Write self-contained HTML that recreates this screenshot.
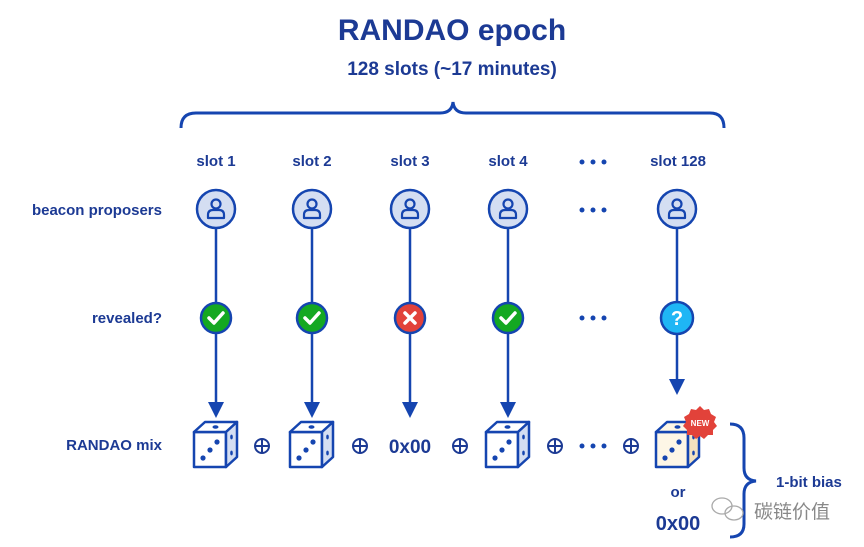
<!DOCTYPE html>
<html><head><meta charset="utf-8"><style>
html,body{margin:0;padding:0;background:#fff;}
svg{display:block;font-family:"Liberation Sans","Noto Sans CJK SC",sans-serif;}
.t{fill:#1c3a94;font-weight:bold;}
</style></head><body>
<svg width="864" height="547" viewBox="0 0 864 547" xmlns="http://www.w3.org/2000/svg">
<defs>
<g id="die">
  <path d="M0 10 L32 10 L32 45 L0 45 Z" fill="#fff" stroke="#1545b0" stroke-width="2.5" stroke-linejoin="round"/>
  <path d="M0 10 L11 0 L43 0 L32 10 Z" fill="#fff" stroke="#1545b0" stroke-width="2.5" stroke-linejoin="round"/>
  <path d="M32 10 L43 0 L43 35 L32 45 Z" fill="#d4def2" stroke="#1545b0" stroke-width="2.5" stroke-linejoin="round"/>
  <ellipse cx="21.5" cy="5" rx="3" ry="1.8" fill="#1545b0"/>
  <circle cx="9" cy="36" r="2.6" fill="#1545b0"/>
  <circle cx="16" cy="28" r="2.6" fill="#1545b0"/>
  <circle cx="23" cy="20" r="2.6" fill="#1545b0"/>
  <ellipse cx="37.5" cy="15" rx="1.3" ry="2.4" fill="#1545b0"/>
  <ellipse cx="37.5" cy="31" rx="1.3" ry="2.4" fill="#1545b0"/>
</g>
<g id="person">
  <circle r="19" fill="#d4def2" stroke="#1545b0" stroke-width="2.5"/>
  <circle cy="-5" r="4.5" fill="none" stroke="#1545b0" stroke-width="2.2"/>
  <path d="M-8 9 L-8 6 Q-8 1 -3 1 L3 1 Q8 1 8 6 L8 9 Z" fill="none" stroke="#1545b0" stroke-width="2.2" stroke-linejoin="round"/>
</g>
<g id="plus">
  <circle r="7" fill="none" stroke="#1c3a94" stroke-width="2"/>
  <path d="M-7 0 H7 M0 -7 V7" stroke="#1c3a94" stroke-width="2"/>
</g>
<g id="arrow"><path d="M-8 -16 L8 -16 L0 0 Z" fill="#1545b0"/></g>
</defs>

<text x="452" y="40" text-anchor="middle" class="t" font-size="30">RANDAO epoch</text>
<text x="452" y="75" text-anchor="middle" class="t" font-size="19">128 slots (~17 minutes)</text>
<path d="M181 128 Q181 113 196 113 L440 113 Q452 113 453 102 Q454 113 466 113 L710 113 Q724 113 724 128" fill="none" stroke="#1545b0" stroke-width="3"/>

<g class="t" font-size="15" text-anchor="middle">
<text x="216" y="166">slot 1</text>
<text x="312" y="166">slot 2</text>
<text x="410" y="166">slot 3</text>
<text x="508" y="166">slot 4</text>
<text x="678" y="166">slot 128</text>
</g>
<g class="t" font-size="15" text-anchor="end">
<text x="162" y="215">beacon proposers</text>
<text x="162" y="323">revealed?</text>
<text x="162" y="450">RANDAO mix</text>
</g>
<g fill="#1545b0">
<circle cx="582" cy="162" r="2.5"/><circle cx="593" cy="162" r="2.5"/><circle cx="604" cy="162" r="2.5"/>
<circle cx="582" cy="210" r="2.5"/><circle cx="593" cy="210" r="2.5"/><circle cx="604" cy="210" r="2.5"/>
<circle cx="582" cy="318" r="2.5"/><circle cx="593" cy="318" r="2.5"/><circle cx="604" cy="318" r="2.5"/>
<circle cx="582" cy="446" r="2.5"/><circle cx="593" cy="446" r="2.5"/><circle cx="604" cy="446" r="2.5"/>
</g>

<!-- lines -->
<g stroke="#1545b0" stroke-width="2.5">
<line x1="216" y1="228" x2="216" y2="405"/>
<line x1="312" y1="228" x2="312" y2="405"/>
<line x1="410" y1="228" x2="410" y2="405"/>
<line x1="508" y1="228" x2="508" y2="405"/>
<line x1="677" y1="228" x2="677" y2="381"/>
</g>
<use href="#arrow" x="216" y="418"/>
<use href="#arrow" x="312" y="418"/>
<use href="#arrow" x="410" y="418"/>
<use href="#arrow" x="508" y="418"/>
<use href="#arrow" x="677" y="395"/>

<use href="#person" x="216" y="209"/>
<use href="#person" x="312" y="209"/>
<use href="#person" x="410" y="209"/>
<use href="#person" x="508" y="209"/>
<use href="#person" x="677" y="209"/>

<!-- status -->
<g stroke="#1545b0" stroke-width="2.5">
<circle cx="216" cy="318" r="15" fill="#14a822"/>
<circle cx="312" cy="318" r="15" fill="#14a822"/>
<circle cx="410" cy="318" r="15" fill="#e2423a"/>
<circle cx="508" cy="318" r="15" fill="#14a822"/>
<circle cx="677" cy="318" r="16" fill="#1fb6f5"/>
</g>
<g stroke="#fff" stroke-width="3.5" fill="none" stroke-linecap="round" stroke-linejoin="round">
<path d="M209 318 L214 323 L223 313"/>
<path d="M305 318 L310 323 L319 313"/>
<path d="M501 318 L506 323 L515 313"/>
<path d="M405 313 L415 323 M415 313 L405 323"/>
</g>
<text x="677" y="325" text-anchor="middle" fill="#fff" font-weight="bold" font-size="20">?</text>

<!-- dice -->
<use href="#die" x="194" y="422"/>
<use href="#die" x="290" y="422"/>
<use href="#die" x="486" y="422"/>
<g transform="translate(656,422)">
  <path d="M0 10 L32 10 L32 45 L0 45 Z" fill="#fdf6e6" stroke="#1545b0" stroke-width="2.5" stroke-linejoin="round"/>
  <path d="M0 10 L11 0 L43 0 L32 10 Z" fill="#fdf6e6" stroke="#1545b0" stroke-width="2.5" stroke-linejoin="round"/>
  <path d="M32 10 L43 0 L43 35 L32 45 Z" fill="#f3e2bf" stroke="#1545b0" stroke-width="2.5" stroke-linejoin="round"/>
  <ellipse cx="21.5" cy="5" rx="3" ry="1.8" fill="#1545b0"/>
  <circle cx="9" cy="36" r="2.6" fill="#1545b0"/>
  <circle cx="16" cy="28" r="2.6" fill="#1545b0"/>
  <circle cx="23" cy="20" r="2.6" fill="#1545b0"/>
  <ellipse cx="37.5" cy="15" rx="1.3" ry="2.4" fill="#1545b0"/>
  <ellipse cx="37.5" cy="31" rx="1.3" ry="2.4" fill="#1545b0"/>
</g>
<polygon fill="#e2423a" points="715,424 712.5,430.5 706.9,434.7 706.3,441.6 701.4,446.6 701.3,453.5 696.5,458.6 696.5,465.5 691.6,470.5 691,477.4 685.4,481.6 683,488 676.6,490.4 672.4,496 665.5,496.6 660.5,501.5 653.6,501.5 648.5,506.3 641.6,506.4 636.6,511.3 629.7,511.9 625.5,517.5 619,520" transform="translate(0,0)" opacity="0"/>
<g transform="translate(700,423)">
<polygon fill="#e2423a" points="0,-17 4,-13 9,-14 11,-9 16,-6 14,-1 17,3 13,7 13,12 8,12 4,16 0,13 -4,16 -8,12 -13,12 -13,7 -17,3 -14,-1 -16,-6 -11,-9 -9,-14 -4,-13"/>
<text x="0" y="3" text-anchor="middle" fill="#fff" font-weight="bold" font-size="8">NEW</text>
</g>

<use href="#plus" x="262" y="446"/>
<use href="#plus" x="360" y="446"/>
<use href="#plus" x="460" y="446"/>
<use href="#plus" x="555" y="446"/>
<use href="#plus" x="631" y="446"/>
<text x="410" y="453" text-anchor="middle" class="t" font-size="19" font-weight="normal" style="font-weight:600">0x00</text>

<text x="678" y="497" text-anchor="middle" class="t" font-size="15">or</text>
<text x="678" y="530" text-anchor="middle" class="t" font-size="20" style="font-weight:600">0x00</text>

<path d="M730 424 Q744 424 744 438 L744 468 Q744 480 756 481 Q744 482 744 494 L744 524 Q744 537 730 537" fill="none" stroke="#1545b0" stroke-width="3"/>
<text x="776" y="487" class="t" font-size="15">1-bit bias</text>
<text x="754" y="518" fill="#888" font-size="19" font-family="'Noto Sans CJK SC',sans-serif">碳链价值</text>
<g fill="none" stroke="#aaa" stroke-width="1.3">
<ellipse cx="722" cy="506" rx="10" ry="8"/>
<ellipse cx="734" cy="513" rx="9" ry="7"/>
</g>
</svg>
</body></html>
